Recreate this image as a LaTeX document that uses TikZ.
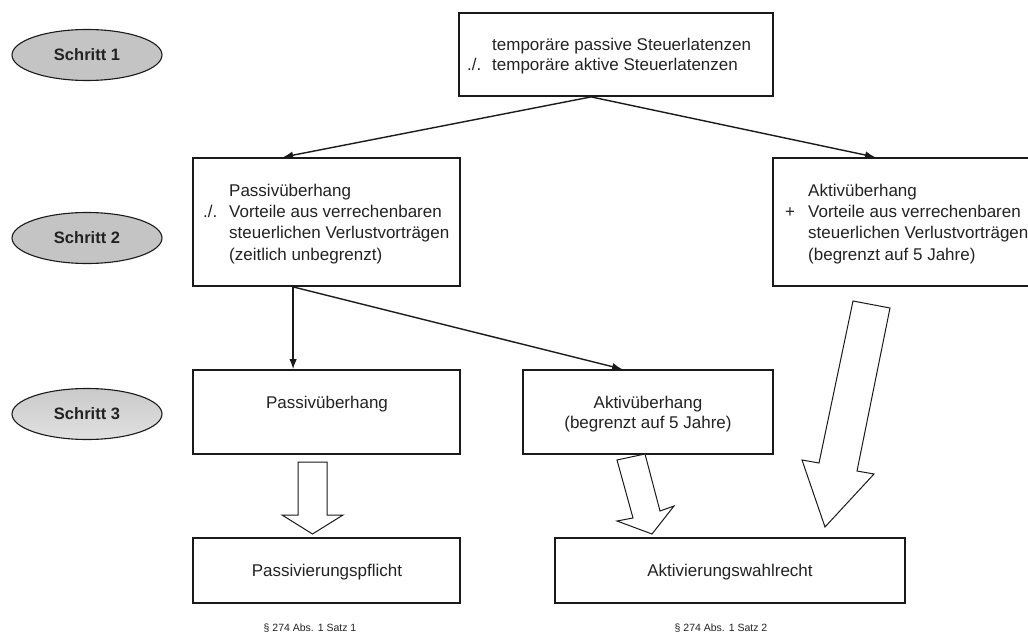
\documentclass[tikz,border=0pt]{standalone}
\usepackage{fontspec}
\setmainfont{Liberation Sans}
\usetikzlibrary{shapes.geometric,arrows.meta,calc}
\definecolor{ink}{HTML}{1A1A1A}
\definecolor{txt}{HTML}{222222}
\definecolor{ellfill}{HTML}{C4C4C4}
\tikzset{
  boxnode/.style={draw=ink, line width=1.8pt, rectangle, inner sep=0pt},
  stepell/.style={draw=ink, line width=1.1pt, ellipse, inner sep=0pt,
    minimum width=150pt, minimum height=51pt, text=txt,
    font=\fontsize{16.5}{19}\selectfont\bfseries},
  lbl/.style={inner sep=0pt, text=txt, font=\fontsize{17}{21}\selectfont},
  small/.style={inner sep=0pt, text=txt, font=\fontsize{10.5}{12}\selectfont},
  arr/.style={draw=ink, line width=1.4pt, -{Latex[length=10pt,width=7.5pt]}},
  hollow/.style={draw=ink, line width=1pt, fill=white, line join=miter}
}
\begin{document}
\begin{tikzpicture}[x=1pt,y=-1pt]
\useasboundingbox (0,0) rectangle (1028,639);
\clip (0,0) rectangle (1028,639);

% step ellipses
\node[stepell, fill=ellfill] (s1) at (87,55) {Schritt 1};
\node[stepell, fill=ellfill] (s2) at (87,238) {Schritt 2};
\node[stepell, top color=ellfill!90, bottom color=white!88!black] (s3) at (87,414) {Schritt 3};

% boxes
\node[boxnode, minimum width=314pt, minimum height=83pt] (t) at (616,54.5) {};
\node[boxnode, minimum width=267pt, minimum height=128pt] (p2) at (326.5,222) {};
\node[boxnode, minimum width=272pt, minimum height=128pt] (a2) at (909,222) {};
\node[boxnode, minimum width=267pt, minimum height=84pt] (p3) at (326.5,412) {};
\node[boxnode, minimum width=250pt, minimum height=84pt] (a3) at (648,412) {};
\node[boxnode, minimum width=267pt, minimum height=65pt] (pp) at (326.5,570.5) {};
\node[boxnode, minimum width=350pt, minimum height=65pt] (aw) at (730,570.5) {};

% top box text
\node[lbl, anchor=base west] (t1) at (492,51) {temporäre passive Steuerlatenzen};
\node[lbl, anchor=base west] (t2m) at (467,71) {./.};
\node[lbl, anchor=base west] (t2) at (492,71) {temporäre aktive Steuerlatenzen};

% step 2 passive text
\node[lbl, anchor=base west] (p21) at (229,197) {Passivüberhang};
\node[lbl, anchor=base west] (p22m) at (203,218) {./.};
\node[lbl, anchor=base west] (p22) at (229,218) {Vorteile aus verrechenbaren};
\node[lbl, anchor=base west] (p23) at (229,239) {steuerlichen Verlustvorträgen};
\node[lbl, anchor=base west] (p24) at (229,260) {(zeitlich unbegrenzt)};

% step 2 active text
\node[lbl, anchor=base west] (a21) at (808,197) {Aktivüberhang};
\node[lbl, anchor=base west] (a22m) at (785,218) {+};
\node[lbl, anchor=base west] (a22) at (808,218) {Vorteile aus verrechenbaren};
\node[lbl, anchor=base west] (a23) at (808,239) {steuerlichen Verlustvorträgen};
\node[lbl, anchor=base west] (a24) at (808,260) {(begrenzt auf 5 Jahre)};

% step 3 texts
\node[lbl, anchor=base] (p31) at (327,408) {Passivüberhang};
\node[lbl, anchor=base] (a31) at (648,408) {Aktivüberhang};
\node[lbl, anchor=base] (a32) at (648,428) {(begrenzt auf 5 Jahre)};

% result texts
\node[lbl, anchor=base] (ppt) at (327,576) {Passivierungspflicht};
\node[lbl, anchor=base] (awt) at (730,576) {Aktivierungswahlrecht};

% legal references
\node[small, anchor=base] (r1) at (310,631) {§ 274 Abs. 1 Satz 1};
\node[small, anchor=base] (r2) at (721,631) {§ 274 Abs. 1 Satz 2};

% connector points
\coordinate (tout) at ($(t.south west)+(133,0)$);
\coordinate (p2in) at ($(p2.north west)+(91,0)$);
\coordinate (a2in) at ($(a2.north west)+(103,0)$);
\coordinate (p2out) at ($(p2.south west)+(101,0)$);
\coordinate (p3in) at ($(p3.north west)+(101,0)$);
\coordinate (a3in) at ($(a3.north west)+(100,0)$);

\draw[arr] (tout) -- (p2in);
\draw[arr] (tout) -- (a2in);
\draw[arr] (p2out) -- (p3in);
\draw[arr] (p2out) -- (a3in);

% hollow block arrows
\draw[hollow] (298,462) -- (327,462) -- (327,515) -- (343,515) -- (312.5,534)
  -- (282,515) -- (298,515) -- cycle;
\draw[hollow] (617,460) -- (645,454) -- (660,511) -- (674,506) -- (652,534)
  -- (617,521) -- (633,518) -- cycle;
\draw[hollow] (853,301) -- (890,308) -- (857,471) -- (874,474) -- (825,527)
  -- (802,460) -- (819,463) -- cycle;
\end{tikzpicture}
\end{document}
